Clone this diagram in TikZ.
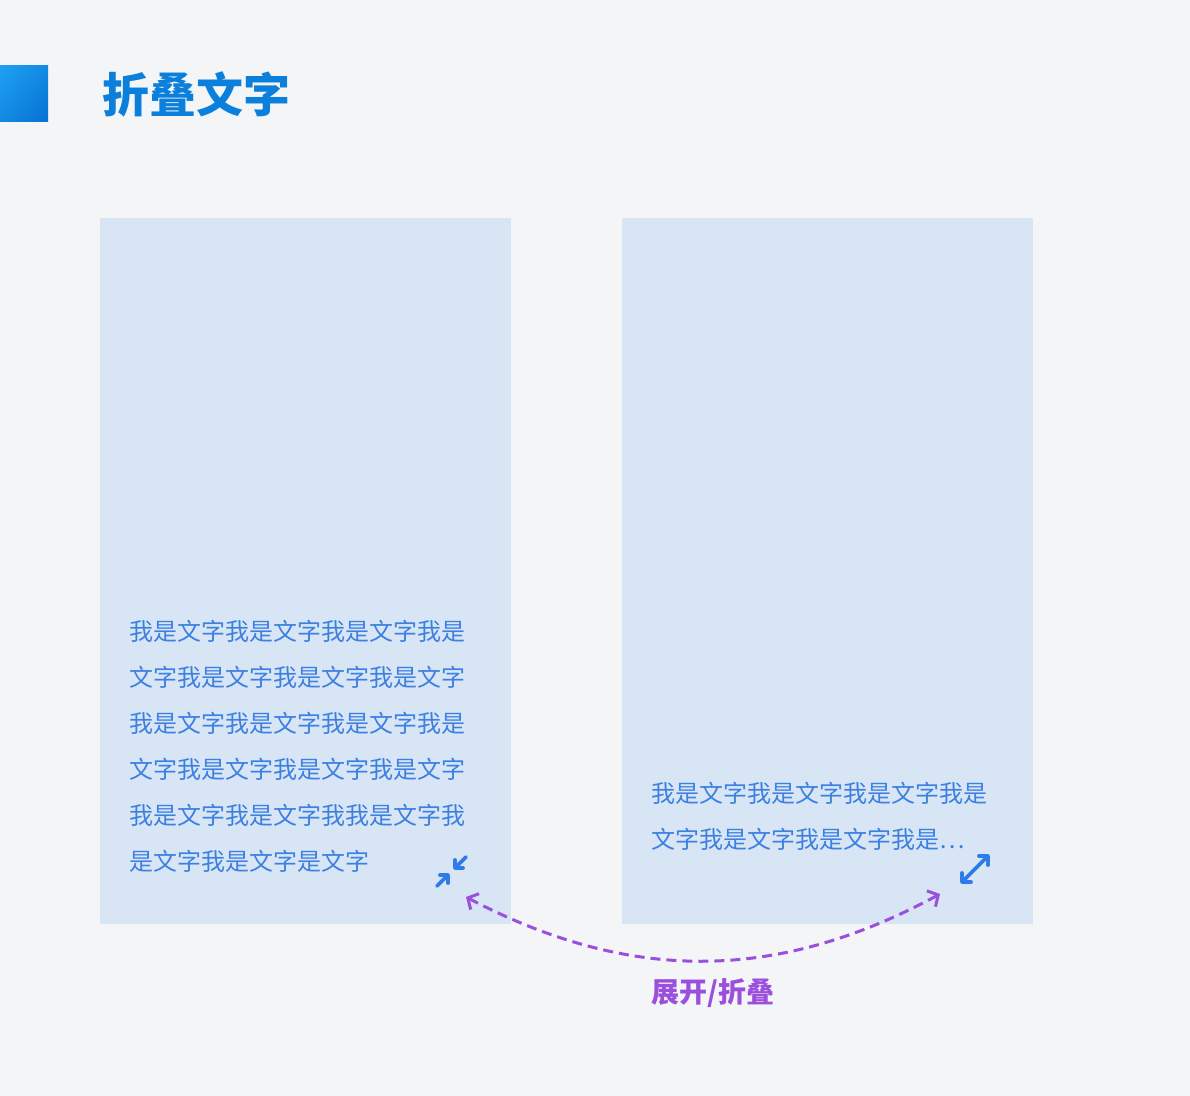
\documentclass[tikz,border=0pt]{standalone}
\usepackage{fontspec}
\usepackage{tikz}
\usetikzlibrary{arrows.meta,positioning,calc,shadings}
\newfontfamily\cjk{Noto Sans CJK SC}
\definecolor{Paper}{HTML}{F4F5F7}
\definecolor{Card}{HTML}{D8E5F5}
\definecolor{MarkLight}{HTML}{1FA0F4}
\definecolor{MarkMid}{HTML}{128AE4}
\definecolor{MarkDark}{HTML}{0670D0}
\definecolor{TitleBlue}{HTML}{0A7FDB}
\definecolor{TextBlue}{HTML}{3C80E2}
\definecolor{IconBlue}{HTML}{2F7BE8}
\definecolor{Violet}{HTML}{9A4FDD}

\begin{document}
\begin{tikzpicture}[x=0.5pt,y=-0.5pt,
    card/.style={fill=Card,inner sep=0pt,minimum width=205.5pt,minimum height=353pt,anchor=north west},
    body/.style={anchor=north west,inner sep=0pt,align=left,text=TextBlue,
                 font=\cjk\fontsize{12}{23}\selectfont},
    icon/.style={IconBlue,line width=1.9pt,line cap=round,line join=round}]
        \fill[Paper] (0,0) rectangle (1190,1096);
        % title bar
        \shade[upper left=MarkLight,upper right=MarkMid,lower left=MarkMid,lower right=MarkDark]
              (0,66) rectangle (48,122);
        \node[anchor=base west,inner sep=0pt,text=TitleBlue,
              font=\cjk\bfseries\fontsize{23.5}{28}\selectfont] (title) at (102,113) {折叠文字};
        % cards
        \node[card] (open) at (100,218) {};
        \node[card] (closed) at (622,218) {};
        \node[body] (fulltext) at (129,620)
              {我是文字我是文字我是文字我是\\文字我是文字我是文字我是文字\\我是文字我是文字我是文字我是\\
               文字我是文字我是文字我是文字\\我是文字我是文字我我是文字我\\是文字我是文字是文字};
        \node[body] (shorttext) at (651,782)
              {我是文字我是文字我是文字我是\\文字我是文字我是文字我是…};
        % icons
        \coordinate (shrink) at (451,871);
        \coordinate (expand) at (975,869);
        \begin{scope}[shift={(shrink)}]
          \draw[icon] (15,-14) -- (4,-3);
          \draw[icon] (4,-11) -- (4,-3) -- (12,-3);
          \draw[icon] (-14,15) -- (-3,4);
          \draw[icon] (-11,4) -- (-3,4) -- (-3,12);
        \end{scope}
        \begin{scope}[shift={(expand)}]
          \draw[icon] (-13,13) -- (13,-13);
          \draw[icon] (4,-13) -- (13,-13) -- (13,-4);
          \draw[icon] (-13,4) -- (-13,13) -- (-4,13);
        \end{scope}
        % toggle
        \coordinate (from) at (466,897);
        \coordinate (to) at (940,894);
        \draw[Violet,line width=1.5pt,dash pattern=on 5pt off 3pt,
              {Straight Barb[length=4pt,width=9pt]}-{Straight Barb[length=4pt,width=9pt]}]
              (from) to[bend right=28] (to);
        \node[text=Violet,font=\cjk\bfseries\fontsize{14}{17}\selectfont] (toggle) at (713,993) {展开/折叠};
\end{tikzpicture}
\end{document}
